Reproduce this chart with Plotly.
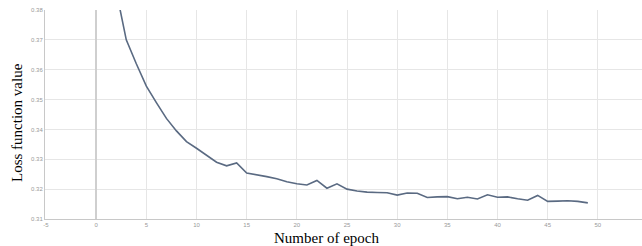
import plotly.graph_objects as go

epochs = list(range(0, 50))
loss = [0.452, 0.412, 0.3864, 0.3700, 0.3620, 0.3545, 0.3490, 0.3437, 0.3395, 0.3359,
        0.3337, 0.3312, 0.3290, 0.3278, 0.3288, 0.3254, 0.3249, 0.3242, 0.3235, 0.3225,
        0.3218, 0.3214, 0.3229, 0.3203, 0.3218, 0.3200, 0.3194, 0.3190, 0.3189, 0.3188,
        0.3180, 0.3187, 0.3186, 0.3172, 0.3174, 0.3175, 0.3168, 0.3173, 0.3167, 0.3181,
        0.3173, 0.3174, 0.3168, 0.3163, 0.3179, 0.3159, 0.3160, 0.3161, 0.3159, 0.3154]

x_ticks = [-5, 0, 5, 10, 15, 20, 25, 30, 35, 40, 45, 50]
y_ticks = [0.31, 0.32, 0.33, 0.34, 0.35, 0.36, 0.37, 0.38]

W, H = 642, 246
L, R, T, B = 45, 0, 10, 27
pw, ph = W - L - R, H - T - B

fig = go.Figure()
fig.add_trace(go.Scatter(x=epochs, y=loss, mode="lines",
                         line=dict(color="#5a6a82", width=1.6), showlegend=False))

fig.update_layout(
    width=W, height=H,
    margin=dict(l=L, r=R, t=T, b=B, autoexpand=False),
    paper_bgcolor="white", plot_bgcolor="white",
    xaxis=dict(range=[-5.1, 54.4], tickvals=x_ticks, ticktext=[str(v) for v in x_ticks],
               automargin=False,
               showgrid=True, gridcolor="#e6e6e6", gridwidth=1,
               zeroline=True, zerolinecolor="#cfcfcf", zerolinewidth=1.5,
               showline=True, linecolor="#c8c8c8", linewidth=1,
               tickfont=dict(size=6, color="#999999", family="Arial"), ticks="", ticklen=0),
    yaxis=dict(range=[0.31, 0.38], tickvals=y_ticks, ticktext=["%.2f" % v for v in y_ticks],
               automargin=False,
               showgrid=True, gridcolor="#e6e6e6", gridwidth=1, zeroline=False,
               showline=True, linecolor="#c8c8c8", linewidth=1,
               tickfont=dict(size=6, color="#999999", family="Arial"), ticks="", ticklen=0),
    annotations=[
        dict(text="Number of epoch", xref="paper", yref="paper",
             x=(326 - L) / pw, y=(H - B - 238) / ph, xanchor="center", yanchor="middle",
             showarrow=False, font=dict(family="Liberation Serif", size=15, color="black")),
        dict(text="Loss function value", xref="paper", yref="paper",
             x=(17 - L) / pw, y=(H - B - 123) / ph, xanchor="center", yanchor="middle",
             textangle=-90, showarrow=False,
             font=dict(family="Liberation Serif", size=15, color="black")),
    ],
)

fig.write_html("out.html", config={"displayModeBar": False},
               post_script="document.body.style.margin='0';document.body.style.overflow='hidden';")
